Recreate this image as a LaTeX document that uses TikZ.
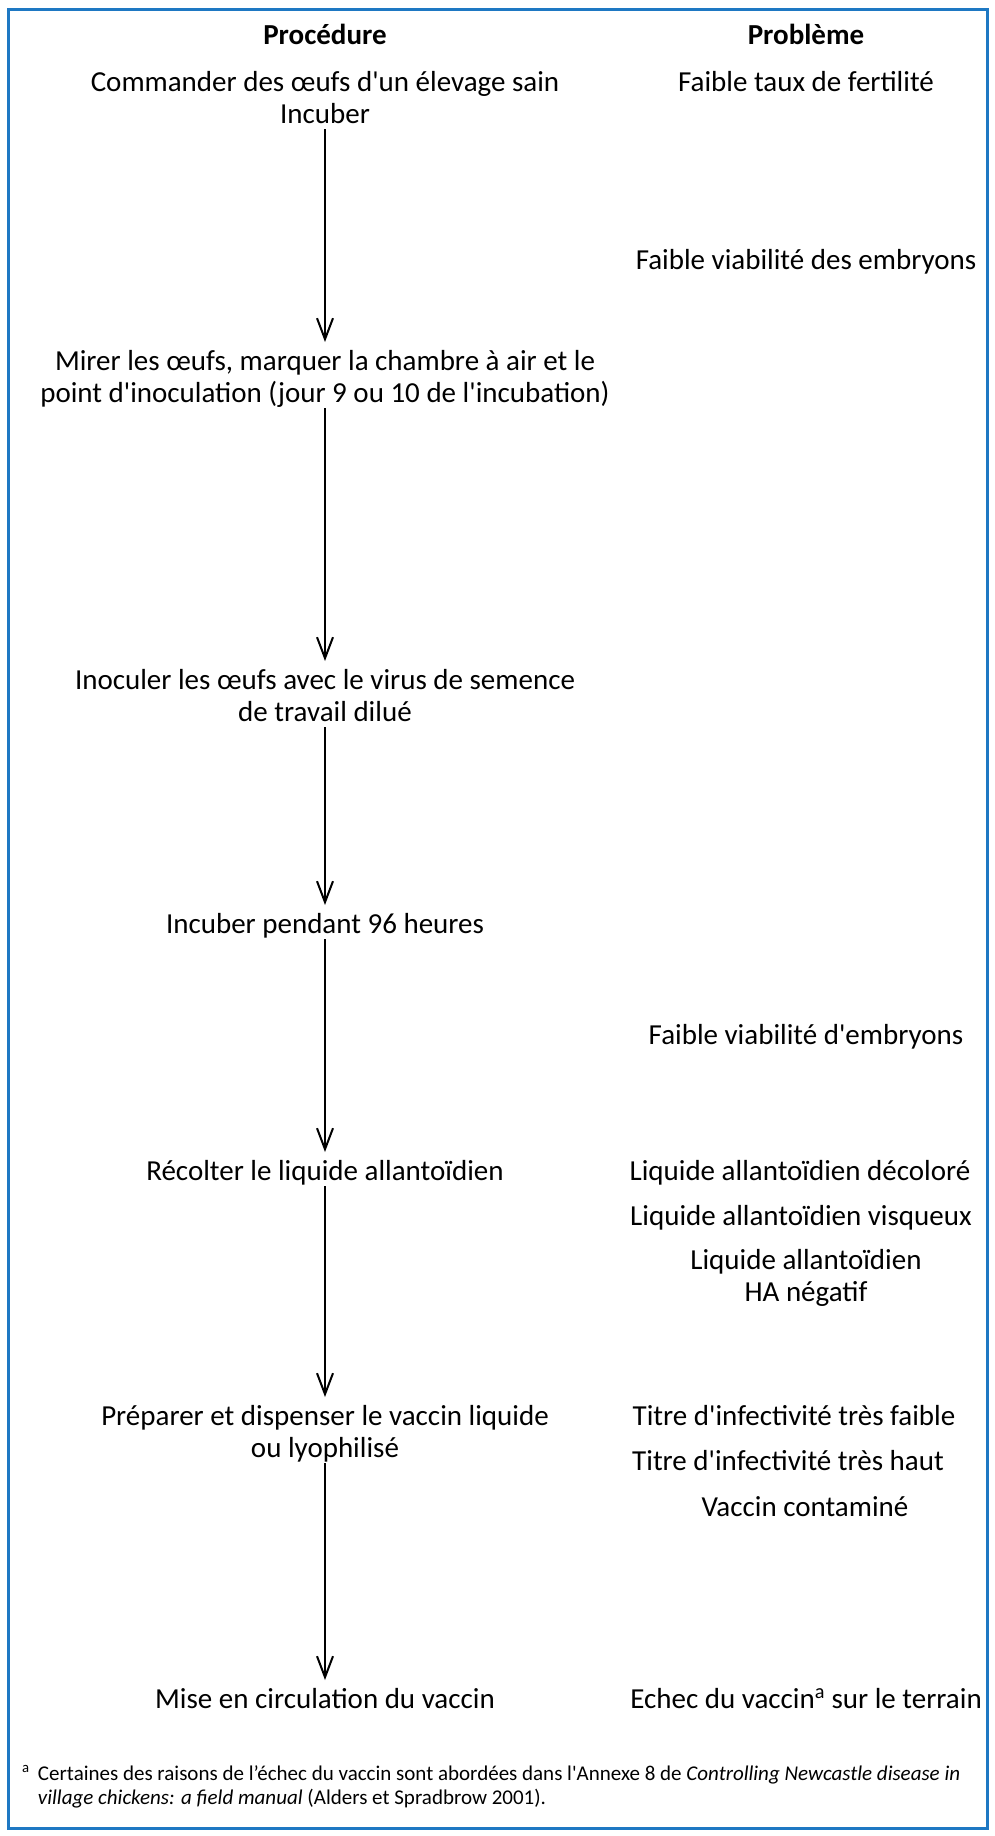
\documentclass[tikz,border=0pt]{standalone}
\usepackage{fontspec}
\setmainfont{Carlito}[Ligatures=TeXOff]
\usetikzlibrary{arrows.meta}
\definecolor{frameblue}{RGB}{30,120,195}
\newcommand{\mainsize}{\fontsize{29}{32}\selectfont\lineskiplimit=-100pt\relax}
\newcommand{\notesize}{\fontsize{21}{24}\selectfont\lineskiplimit=-100pt\relax}
\newcommand{\myhi}{\rule{0pt}{24pt}}
\newcommand{\mylo}{\rule[-8pt]{0pt}{8pt}}
\tikzset{
  txt/.style={inner sep=0pt, outer sep=0pt, align=center, font=\mainsize, anchor=north},
  hdr/.style={txt, font=\mainsize\bfseries},
  arr/.style={line width=2pt, -{Straight Barb[length=21pt,width=16pt]}, shorten >=4pt, shorten <=-2pt},
  frame/.style={draw=frameblue, line width=3pt}
}
\begin{document}
\begin{tikzpicture}[x=1pt,y=-1pt]
\fill[white] (0,0) rectangle (994,1836);
\useasboundingbox (0,0) rectangle (994,1836);
\draw[frame] (8,10) rectangle (987,1828);

% left column
\node[hdr] (hproc) at (325,21) {\myhi Procédure\mylo};
\node[txt] (l1) at (325,67) {\myhi Commander des œufs d'un élevage sain\\Incuber\mylo};
\node[txt] (l2) at (325,346) {\myhi Mirer les œufs, marquer la chambre à air et le\\point d'inoculation (jour 9 ou 10 de l'incubation)\mylo};
\node[txt] (l3) at (325,665) {\myhi Inoculer les œufs avec le virus de semence\\de travail dilué\mylo};
\node[txt] (l4) at (325,909) {\myhi Incuber pendant 96 heures\mylo};
\node[txt] (l5) at (325,1156) {\myhi Récolter le liquide allantoïdien\mylo};
\node[txt] (l6) at (325,1401) {\myhi Préparer et dispenser le vaccin liquide\\ou lyophilisé\mylo};
\node[txt] (l7) at (325,1684) {\myhi Mise en circulation du vaccin\mylo};

% right column
\node[hdr] (hprob) at (806,21) {\myhi Problème\mylo};
\node[txt] (r1) at (806,67) {\myhi Faible taux de fertilité\mylo};
\node[txt] (r2) at (806,245) {\myhi Faible viabilité des embryons\mylo};
\node[txt] (r3) at (806,1020) {\myhi Faible viabilité d'embryons\mylo};
\node[txt] (r4) at (800,1156) {\myhi Liquide allantoïdien décoloré\mylo};
\node[txt] (r5) at (801,1201) {\myhi Liquide allantoïdien visqueux\mylo};
\node[txt] (r6) at (806,1245) {\myhi Liquide allantoïdien\\HA négatif\mylo};
\node[txt] (r7) at (794,1401) {\myhi Titre d'infectivité très faible\mylo};
\node[txt] (r8) at (788,1446) {\myhi Titre d'infectivité très haut\mylo};
\node[txt] (r9) at (805,1492) {\myhi Vaccin contaminé\mylo};
\node[txt] (r10) at (806,1684) {\myhi Echec du vaccin\textsuperscript{a} sur le terrain\mylo};

% footnote
\node[inner sep=0pt, outer sep=0pt, align=left, font=\notesize, anchor=north west] (note) at (22,1763)
  {\rule{0pt}{17pt}\makebox[16pt][l]{\textsuperscript{a}}Certaines des raisons de l’échec du vaccin sont abordées dans l'Annexe 8 de \textit{Controlling Newcastle disease in}\\
   \hspace*{16pt}\textit{village chickens: a field manual} (Alders et Spradbrow 2001).};

% arrows
\draw[arr] (l1) -- (l2);
\draw[arr] (l2) -- (l3);
\draw[arr] (l3) -- (l4);
\draw[arr] (l4) -- (l5);
\draw[arr] (l5) -- (l6);
\draw[arr] (l6) -- (l7);
\end{tikzpicture}
\end{document}
